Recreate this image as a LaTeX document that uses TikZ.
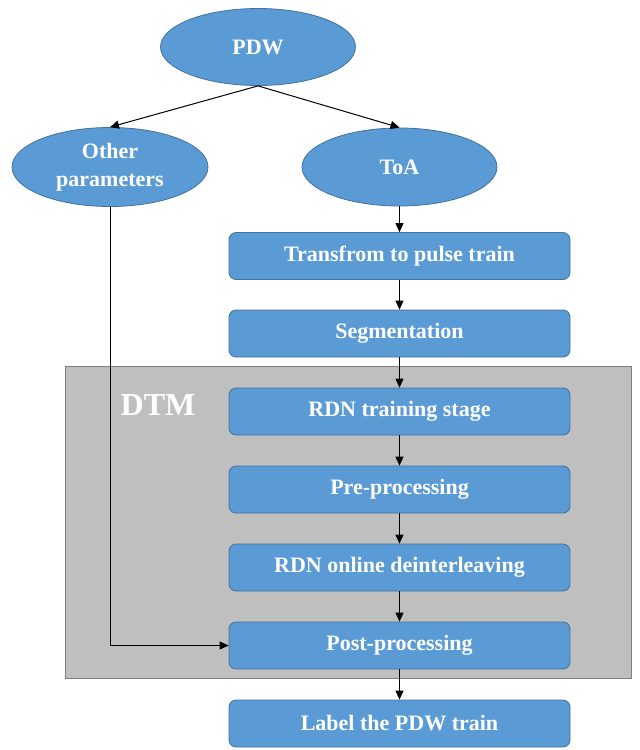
\documentclass[tikz,border=0pt]{standalone}
\usepackage{fontspec}
\setmainfont{Liberation Serif}
\usetikzlibrary{shapes.geometric,arrows.meta}
\definecolor{boxfill}{HTML}{5B9BD5}
\definecolor{boxline}{HTML}{41719C}
\definecolor{dtmfill}{HTML}{BFBFBF}
\definecolor{dtmline}{HTML}{7F7F7F}
\tikzset{
  oval/.style={ellipse, draw=boxline, fill=boxfill, line width=0.8pt, minimum width=195pt, minimum height=77pt, inner sep=0pt, align=center, text=white, font=\fontsize{22}{28}\selectfont\bfseries},
  stepbox/.style={rectangle, rounded corners=7pt, draw=boxline, fill=boxfill, line width=0.8pt, minimum width=341pt, minimum height=47pt, inner sep=0pt, text=white, font=\fontsize{22}{24}\selectfont\bfseries},
  conn/.style={draw=black, line width=1pt, -{Triangle[length=9pt,width=8pt]}},
}
\begin{document}
\begin{tikzpicture}[x=1pt,y=-1pt]
\useasboundingbox (0,0) rectangle (640,750);
\node[draw=dtmline, fill=dtmfill, line width=1pt, minimum width=566pt, minimum height=312pt, inner sep=0pt] (dtm) at (348,522) {};
\node[text=white, font=\fontsize{32}{34}\selectfont\bfseries, inner sep=0pt] (dtmlabel) at (158,405) {DTM};
\node[oval] (pdw) at (258,47) {PDW};
\node[oval, minimum width=196pt, minimum height=79pt] (other) at (110,167) {Other\\parameters};
\node[oval, minimum height=78pt] (toa) at (399.5,167) {ToA};
\node[stepbox] (b1) at (399.5,256) {Transfrom to pulse train};
\node[stepbox] (b2) at (399.5,333.5) {Segmentation};
\node[stepbox] (b3) at (399.5,411.5) {RDN training stage};
\node[stepbox] (b4) at (399.5,489.5) {Pre-processing};
\node[stepbox] (b5) at (399.5,567.5) {RDN online deinterleaving};
\node[stepbox] (b6) at (399.5,645.5) {Post-processing};
\node[stepbox] (b7) at (399.5,723.5) {Label the PDW train};
\draw[conn] (pdw.south) -- (other.north);
\draw[conn] (pdw.south) -- (toa.north);
\draw[conn] (toa.south) -- (b1.north);
\draw[conn] (b1.south) -- (b2.north);
\draw[conn] (b2.south) -- (b3.north);
\draw[conn] (b3.south) -- (b4.north);
\draw[conn] (b4.south) -- (b5.north);
\draw[conn] (b5.south) -- (b6.north);
\draw[conn] (b6.south) -- (b7.north);
\draw[conn] (other.south) |- (b6.west);
\end{tikzpicture}
\end{document}
